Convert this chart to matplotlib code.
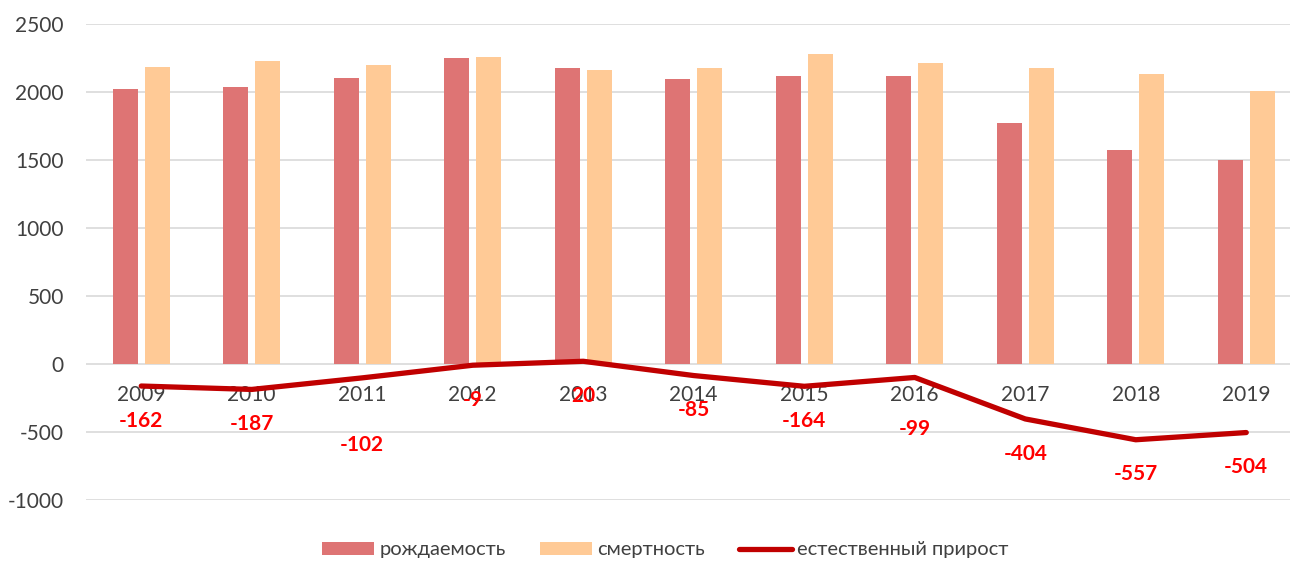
"""births / deaths / natural increase chart"""
import matplotlib
matplotlib.use("Agg")
import matplotlib.pyplot as plt
import numpy as np

# data
years = ["2009", "2010", "2011", "2012", "2013", "2014",
         "2015", "2016", "2017", "2018", "2019"]
births = [2020, 2040, 2100, 2250, 2180, 2095, 2115, 2115, 1770, 1575, 1500]
deaths = [2182, 2227, 2202, 2259, 2160, 2180, 2279, 2214, 2174, 2132, 2004]
natural = [-162, -187, -102, -9, 20, -85, -164, -99, -404, -557, -504]

plt.rcParams['font.family'] = ['Lato', 'DejaVu Sans']
plt.rcParams['axes.unicode_minus'] = False

fig = plt.figure(figsize=(12.9, 5.62), dpi=100)
ax = fig.add_axes([86 / 1290, 62 / 562, 1 - 86 / 1290, 476 / 562])

x = np.arange(len(years))
b1 = ax.bar(x - 0.143, births, width=0.226, color="#DE7474", label="рождаемость", zorder=2)
b2 = ax.bar(x + 0.143, deaths, width=0.226, color="#FFCA96", label="смертность", zorder=2)
ln, = ax.plot(x, natural, color="#C00000", lw=3.8, solid_capstyle="round",
              label="естественный прирост", zorder=3)

# подписи данных (часть подписей сдвинута вручную, как в оригинале)
extra = {2: -32, 7: -17}
for i, v in enumerate(natural):
    ax.annotate(str(v), (x[i], v), xytext=(0, -25 + extra.get(i, 0) * 0.72),
                textcoords="offset points", ha="center", va="center",
                color="#FF0000", fontsize=15, fontweight="bold", zorder=4)

ax.set_ylim(-1000, 2500)
ax.set_xlim(-0.5, -0.5 + (1290 - 86) / 110.5)
ax.set_yticks(range(-1000, 2501, 500))
ax.set_xticks(x)
ax.set_xticklabels(years)
ax.yaxis.grid(True, color="#D9D9D9", lw=1.2, zorder=0)
ax.set_axisbelow(True)
for s in ["top", "right", "left"]:
    ax.spines[s].set_visible(False)
ax.spines["bottom"].set_position(("data", 0))
ax.spines["bottom"].set_visible(False)
ax.tick_params(axis="both", length=0, labelsize=15, labelcolor="#404040")
ax.tick_params(axis="x", pad=15)
ax.tick_params(axis="y", pad=16)

fig.legend([b1, b2, ln], ["рождаемость", "смертность", "естественный прирост"],
           loc="center", bbox_to_anchor=(0.5155, 1 - 550 / 562), ncol=3,
           frameon=False, fontsize=14.5, labelcolor="#404040",
           handlelength=2.6, handleheight=0.65, handletextpad=0.25,
           columnspacing=1.7)

fig.savefig("out.png", dpi=100)
